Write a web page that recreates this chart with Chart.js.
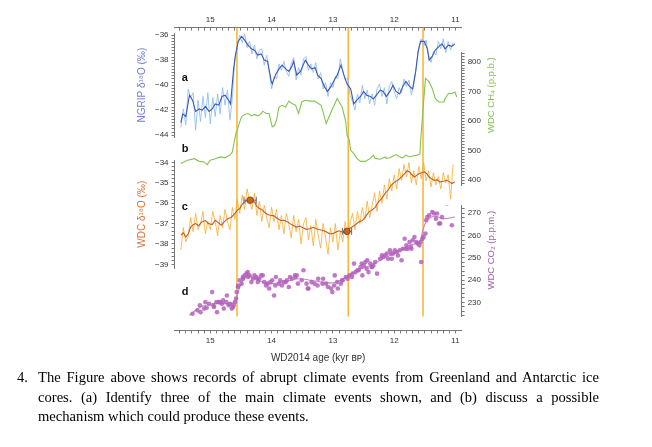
<!DOCTYPE html>
<html>
<head>
<meta charset="utf-8">
<script src="https://cdn.jsdelivr.net/npm/chart.js@4.4.0/dist/chart.umd.min.js"></script>
<style>
html,body{margin:0;padding:0;background:#fff;width:652px;height:447px;overflow:hidden;position:relative}
#wrap{position:absolute;left:0;top:0;width:652px;height:370px}
.q{position:absolute;font-family:"Liberation Serif","Times New Roman",serif;font-size:14.6px;line-height:19.5px;color:#000}
#qn{left:17px;top:368px}
#qt{left:38px;top:368px;width:561px;text-align:justify}
</style>
</head>
<body>
<div id="wrap"><canvas id="c" width="652" height="370"></canvas></div>
<div class="q" id="qn">4.</div>
<div class="q" id="qt">The Figure above shows records of abrupt climate events from Greenland and Antarctic ice cores. (a) Identify three of the main climate events shown, and (b) discuss a possible mechanism which could produce these events.</div>
<script>
// ---------------- DATA (ages in kyr BP, WD2014) ----------------
const xTickLabels = [15, 14, 13, 12, 11];
const ngripTickLabels = [-44, -42, -40, -38, -36];
const wdcTickLabels = [-39, -38, -37, -36, -35, -34];
const ch4TickLabels = [400, 500, 600, 700, 800];
const co2TickLabels = [230, 240, 250, 260, 270];

const eventAges = [14.565, 12.75, 11.53];

const rawAge = [15.48,15.44,15.40,15.36,15.32,15.28,15.24,15.20,15.16,15.12,15.08,15.04,15.00,14.96,14.92,14.88,14.84,14.80,14.76,14.72,14.68,14.64,14.60,14.56,14.52,14.48,14.44,14.40,14.36,14.32,14.28,14.24,14.20,14.16,14.12,14.08,14.04,14.00,13.96,13.92,13.88,13.84,13.80,13.76,13.72,13.68,13.64,13.60,13.56,13.52,13.48,13.44,13.40,13.36,13.32,13.28,13.24,13.20,13.16,13.12,13.08,13.04,13.00,12.96,12.92,12.88,12.84,12.80,12.76,12.72,12.68,12.64,12.60,12.56,12.52,12.48,12.44,12.40,12.36,12.32,12.28,12.24,12.20,12.16,12.12,12.08,12.04,12.00,11.96,11.92,11.88,11.84,11.80,11.76,11.72,11.68,11.64,11.60,11.56,11.52,11.48,11.44,11.40,11.36,11.32,11.28,11.24,11.20,11.16,11.12,11.08,11.04];

const ngripRaw = [-43.4,-41.9,-43.2,-40.3,-41.0,-40.6,-43.6,-41.2,-42.9,-40.9,-42.6,-40.6,-43.1,-41.0,-42.5,-40.7,-42.3,-40.2,-41.6,-40.4,-42.8,-41.0,-38.0,-36.9,-36.0,-36.6,-35.9,-37.0,-36.5,-37.5,-36.8,-37.9,-37.2,-37.1,-38.4,-37.6,-38.9,-40.3,-39.3,-39.5,-38.3,-38.8,-38.1,-38.9,-39.3,-38.3,-37.8,-39.6,-38.6,-39.2,-37.9,-37.7,-38.8,-38.3,-39.0,-38.2,-39.5,-39.0,-40.3,-39.8,-40.9,-39.8,-40.2,-39.3,-39.5,-37.9,-38.8,-39.6,-39.4,-40.8,-41.3,-42.0,-40.7,-41.4,-40.0,-41.1,-40.4,-41.5,-40.7,-41.6,-40.3,-39.9,-40.9,-40.2,-41.5,-40.1,-39.7,-40.5,-41.1,-40.2,-40.6,-39.5,-40.1,-39.6,-40.8,-39.9,-38.6,-37.0,-36.3,-36.9,-36.4,-37.6,-38.2,-37.3,-37.6,-36.5,-37.1,-36.3,-37.4,-36.5,-37.2,-36.6];

const ngripSmAge = [15.48,15.45,15.40,15.34,15.29,15.24,15.18,15.13,15.08,15.02,14.97,14.92,14.86,14.81,14.76,14.70,14.67,14.62,14.59,14.545,14.49,14.44,14.385,14.33,14.28,14.225,14.17,14.12,14.065,14.01,13.99,13.93,13.88,13.83,13.77,13.72,13.67,13.64,13.59,13.53,13.45,13.40,13.35,13.29,13.25,13.19,13.14,13.09,13.03,12.98,12.93,12.87,12.82,12.77,12.71,12.66,12.61,12.55,12.50,12.45,12.39,12.34,12.29,12.23,12.18,12.13,12.07,12.02,11.97,11.91,11.86,11.81,11.75,11.70,11.65,11.61,11.57,11.51,11.46,11.43,11.38,11.33,11.27,11.22,11.17,11.115,11.06,11.01];
const ngripSm = [-43.0,-42.3,-42.5,-40.8,-41.2,-42.1,-41.9,-42.0,-41.7,-42.1,-41.9,-41.5,-41.6,-40.9,-40.8,-41.2,-41.5,-38.7,-37.6,-36.5,-36.1,-36.4,-36.8,-37.1,-37.2,-37.6,-37.5,-38.0,-38.1,-39.6,-39.9,-39.1,-38.7,-38.4,-38.7,-38.9,-38.5,-38.1,-39.2,-38.9,-38.0,-38.4,-38.7,-38.6,-39.2,-39.5,-40.1,-40.5,-40.1,-39.6,-39.2,-38.4,-39.2,-39.9,-40.3,-41.5,-41.2,-40.9,-40.5,-40.8,-40.9,-41.1,-40.8,-40.4,-40.5,-40.9,-40.5,-40.0,-40.5,-40.7,-40.1,-39.7,-40.1,-40.3,-38.9,-37.3,-36.5,-36.5,-37.1,-38.0,-37.7,-37.2,-36.9,-36.7,-37.1,-36.8,-36.9,-36.7];

const ch4Age = [15.48,15.37,15.26,15.18,15.10,15.05,15.00,14.92,14.84,14.76,14.68,14.64,14.61,14.58,14.56,14.53,14.49,14.44,14.385,14.33,14.28,14.225,14.17,14.145,14.09,14.04,14.01,13.99,13.95,13.92,13.88,13.83,13.77,13.72,13.67,13.61,13.56,13.51,13.45,13.37,13.30,13.24,13.19,13.11,13.03,12.93,12.85,12.79,12.77,12.74,12.71,12.66,12.61,12.55,12.47,12.39,12.34,12.31,12.23,12.15,12.13,12.07,12.02,11.97,11.91,11.86,11.81,11.75,11.70,11.62,11.58,11.57,11.55,11.53,11.49,11.43,11.38,11.33,11.27,11.19,11.17,11.115,11.06,11.01,10.98];
const ch4 = [457,468,473,464,462,453,468,473,479,476,485,496,530,560,570,592,615,623,626,618,623,618,626,634,626,626,598,581,586,603,648,654,648,668,660,654,626,665,671,668,668,660,654,592,631,677,648,598,553,541,502,490,474,464,464,474,485,474,471,479,474,476,482,487,479,476,485,479,482,485,490,530,586,643,745,733,711,677,665,665,677,694,694,699,682];

const wdcRaw = [-38.3,-37.2,-37.9,-37.6,-36.7,-37.4,-36.5,-37.3,-37.0,-36.4,-37.5,-36.9,-37.3,-36.4,-36.9,-37.6,-36.6,-37.2,-36.3,-36.9,-37.3,-36.2,-36.8,-35.8,-36.5,-35.6,-36.3,-35.3,-35.9,-36.3,-35.5,-36.6,-35.9,-36.9,-36.1,-36.7,-37.2,-36.2,-36.9,-36.3,-37.3,-36.6,-37.5,-36.5,-37.0,-37.7,-36.6,-37.4,-36.8,-38.0,-37.0,-36.7,-37.8,-37.1,-38.1,-36.8,-37.6,-38.2,-37.0,-37.7,-38.5,-37.2,-37.9,-37.0,-38.3,-37.4,-37.9,-36.9,-37.7,-37.0,-36.5,-37.3,-36.4,-37.0,-36.2,-36.8,-35.9,-36.7,-36.1,-35.5,-36.4,-35.4,-36.0,-35.1,-35.8,-34.8,-35.4,-34.6,-35.3,-34.3,-34.9,-34.1,-34.7,-34.0,-35.0,-34.4,-35.1,-34.2,-34.8,-34.0,-34.9,-34.4,-35.2,-34.5,-35.1,-34.7,-35.3,-34.5,-35.0,-34.6,-35.8,-34.1];

const wdcSmAge = [15.48,15.44,15.40,15.36,15.32,15.28,15.24,15.19,15.14,15.08,15.03,14.97,14.92,14.87,14.82,14.77,14.71,14.66,14.60,14.56,14.52,14.48,14.44,14.40,14.36,14.32,14.28,14.24,14.20,14.16,14.12,14.07,14.02,13.96,13.91,13.85,13.80,13.75,13.70,13.64,13.59,13.54,13.49,13.43,13.38,13.32,13.27,13.22,13.17,13.11,13.06,13.00,12.95,12.90,12.85,12.81,12.77,12.73,12.69,12.63,12.58,12.52,12.47,12.42,12.37,12.31,12.26,12.20,12.15,12.10,12.05,11.99,11.94,11.88,11.83,11.79,11.75,11.71,11.67,11.63,11.59,11.55,11.51,11.47,11.43,11.39,11.355,11.30,11.25,11.20,11.14,11.10,11.06,11.01];
const wdcSm = [-37.57,-37.45,-37.66,-37.5,-37.17,-37.05,-37.0,-37.1,-36.92,-36.85,-37.0,-37.05,-36.84,-36.95,-37.08,-36.9,-36.75,-36.7,-36.51,-36.35,-36.26,-36.05,-35.94,-35.85,-35.77,-35.9,-35.94,-36.15,-36.26,-36.3,-36.43,-36.55,-36.59,-36.62,-36.75,-36.85,-36.84,-36.9,-37.0,-37.1,-37.17,-37.12,-37.2,-37.28,-37.25,-37.18,-37.25,-37.3,-37.33,-37.4,-37.49,-37.5,-37.41,-37.35,-37.41,-37.45,-37.33,-37.25,-37.17,-37.05,-36.92,-36.85,-36.67,-36.45,-36.35,-36.2,-35.94,-35.75,-35.52,-35.35,-35.12,-34.95,-34.87,-34.7,-34.54,-34.4,-34.46,-34.6,-34.71,-34.62,-34.54,-34.5,-34.46,-34.55,-34.71,-34.8,-34.87,-34.85,-34.95,-34.92,-34.87,-34.95,-35.03,-34.95];

const tieAge = [14.35, 12.77];
const tieVal = [-35.85, -37.38];
const tieErr = [0.1, 0.075];

const co2Age = [15.29,15.21,15.17,15.10,15.08,15.02,14.97,14.94,14.89,14.86,14.81,14.78,14.73,14.70,14.68,14.65,14.62,14.60,14.57,14.545,14.52,14.49,14.465,14.44,14.41,14.385,14.36,14.33,14.305,14.28,14.25,14.225,14.20,14.17,14.145,14.12,14.09,14.065,14.04,13.99,13.96,13.93,13.88,13.83,13.77,13.72,13.67,13.61,13.59,13.51,13.48,13.43,13.40,13.35,13.24,13.16,13.11,13.08,13.03,12.97,12.92,12.87,12.84,12.79,12.76,12.73,12.68,12.655,12.63,12.60,12.55,12.52,12.495,12.44,12.39,12.36,12.34,12.31,12.28,12.23,12.20,12.18,12.12,12.07,12.04,12.02,11.96,11.91,11.88,11.86,11.83,11.80,11.78,11.75,11.72,11.70,11.67,11.64,11.62,11.59,11.56,11.54,11.48,11.46,11.43,11.38,11.35,11.32,11.30,11.27,11.25,11.22,11.14,11.06,
  15.16,15.06,14.95,14.90,14.84,14.79,14.74,14.63,14.58,14.55,14.47,14.39,14.23,14.02,13.94,13.86,13.80,13.75,13.70,13.62,13.57,13.41,13.30,13.25,13.17,13.01,12.98,12.93,12.85,12.69,12.58,12.53,12.47,12.45,12.42,12.37,12.15,12.10,12.05,11.99,11.94,11.81,11.73,11.57,11.52,11.49];
const co2 = [224.9,226.4,228.7,227.2,230.1,229.4,234.6,227.9,225.6,230.1,229.4,227.2,233.1,228.7,229.4,227.2,228.7,230.1,234.6,237.6,239.9,238.4,240.6,242.1,242.9,241.4,242.1,239.1,240.6,242.1,241.4,239.1,240.6,242.1,242.1,239.1,237.6,238.4,236.2,239.9,233.1,241.4,238.4,237.6,239.1,236.9,240.6,241.4,242.1,239.9,244.4,238.4,236.2,239.1,240.6,240.6,238.4,236.9,236.2,242.1,236.2,238.4,239.9,241.4,240.6,242.1,242.9,247.4,243.6,244.4,245.9,242.1,246.6,248.9,247.4,245.9,246.6,248.1,242.9,249.6,251.1,250.4,251.9,253.4,249.6,251.9,252.6,253.4,248.9,254.1,258.6,255.6,254.1,257.1,254.1,257.9,259.3,257.1,256.4,255.6,248.1,258.6,266.9,268.3,269.1,270.6,269.9,267.6,269.9,265.4,265.4,268.3,274.4,264.6,
  225.6,227.6,228.7,230.1,230.1,230.9,230.1,227.9,231.7,236.9,241.4,243.6,240.6,239.1,237.6,239.9,239.1,239.9,241.4,242.1,238.4,236.2,238.4,237.6,238.4,234.6,237.6,239.1,239.9,241.4,244.4,247.4,248.1,245.1,243.6,245.9,251.1,249.6,251.9,253.4,251.1,254.1,254.9,257.1,259.4,260.9];

const co2FitAge = [15.34,15.16,14.94,14.73,14.60,14.545,14.465,14.385,14.28,14.145,13.99,13.77,13.56,13.35,13.13,12.97,12.81,12.60,12.39,12.18,11.96,11.75,11.59,11.54,11.48,11.355,11.20,11.01];
const co2Fit = [224.2,227.9,229.4,229.4,230.1,234.9,239.9,242.1,240.6,239.1,238.4,239.4,240.6,239.9,238.9,238.9,240.9,244.4,246.6,249.6,252.6,255.6,257.1,261.6,266.1,268.7,267.6,268.3];

// ---------------- STYLE ----------------
const FONT = "'Liberation Sans', Arial, Helvetica, sans-serif";
Chart.defaults.font.family = FONT;
const AXIS = '#777';
const BLUE_RAW = '#93c0ee', BLUE_SM = '#3f56b5', BLUE_T = '#6f80d4';
const GREEN = '#84c452';
const OR_RAW = '#f5ad2e', OR_SM = '#c45a26', OR_T = '#d8733a';
const PURP = 'rgba(180,98,188,0.85)', PURP_LINE = '#c385ca', PURP_T = '#a35cb4';
const GOLD = '#f6b93c';

function pts(ages, vals) {
  const n = Math.min(ages.length, vals.length), out = [];
  for (let i = 0; i < n; i++) out.push({x: ages[i], y: vals[i]});
  return out;
}
function tickList(lo, hi, step) {
  const n = Math.round((hi - lo) / step), out = [];
  for (let i = 0; i <= n; i++) out.push({value: +(lo + i * step).toFixed(4)});
  return out;
}
function labelCb(majors) {
  return v => {
    const m = majors.find(t => Math.abs(t - v) < 1e-6);
    return m === undefined ? '' : (m < 0 ? '\u2212' + Math.abs(m) : String(m));
  };
}
function visY(pos, stack, weight, min, max, lo, hi, step, majors, title, color) {
  return {
    type: 'linear', position: pos, stack: stack, stackWeight: weight, min: min, max: max,
    afterBuildTicks: s => { s.ticks = tickList(lo, hi, step); },
    ticks: {autoSkip: false, font: {size: 8}, color: '#333', padding: 3, callback: labelCb(majors)},
    grid: {drawOnChartArea: false, drawTicks: true, tickLength: 3, color: AXIS},
    border: {display: true, color: AXIS, width: 1},
    title: title ? {display: true, text: title, color: color, font: {size: 10}, padding: {top: 4, bottom: 4}} : {display: false}
  };
}
function spacer(pos, stack, weight) {
  return {type: 'linear', position: pos, stack: stack, stackWeight: weight, display: false, min: 0, max: 1};
}
function xAxis(pos) {
  const top = pos === 'top';
  return {
    type: 'linear', position: pos, min: 10.9, max: 15.583, reverse: true,
    afterBuildTicks: s => { s.ticks = tickList(11.0, 15.5, 0.1); },
    ticks: {autoSkip: false, maxRotation: 0, font: {size: 8}, color: '#333', padding: top ? 6 : 3, callback: labelCb(xTickLabels)},
    grid: {drawOnChartArea: false, drawTicks: true, tickLength: top ? -3 : 3, color: AXIS},
    border: {display: true, color: AXIS, width: 1},
    title: top ? {display: false} : {display: true, text: 'WD2014 age (kyr \u0299\u1D18)', color: '#333', font: {size: 10}, padding: {top: 3, bottom: 3}}
  };
}

const datasets = [];
tieAge.forEach((a, i) => {
  datasets.push({data: [{x: a - tieErr[i], y: tieVal[i]}, {x: a + tieErr[i], y: tieVal[i]}], yAxisID: 'yC',
    borderColor: '#6d6d6d', borderWidth: 1, pointStyle: 'line', pointRotation: 90, pointRadius: 3.5,
    pointBorderColor: '#6d6d6d', pointBorderWidth: 1, tension: 0});
});
datasets.unshift({data: pts(tieAge, tieVal), yAxisID: 'yC', showLine: false, pointRadius: 3.3,
  pointBackgroundColor: '#c9651d', pointBorderColor: '#7b3a12', pointBorderWidth: 0.8});
datasets.push({data: pts(co2Age, co2), yAxisID: 'yCO2', showLine: false, pointRadius: 2.3,
  pointBackgroundColor: PURP, pointBorderWidth: 0});
datasets.push({data: pts(co2FitAge, co2Fit), yAxisID: 'yCO2', borderColor: PURP_LINE, borderWidth: 1.1, pointRadius: 0, tension: 0.35});
datasets.push({data: pts(wdcSmAge, wdcSm), yAxisID: 'yC', borderColor: OR_SM, borderWidth: 1.1, pointRadius: 0, tension: 0});
datasets.push({data: pts(rawAge, wdcRaw), yAxisID: 'yC', borderColor: OR_RAW, borderWidth: 0.8, pointRadius: 0, tension: 0});
datasets.push({data: pts(ch4Age, ch4), yAxisID: 'yCH4', borderColor: GREEN, borderWidth: 1.1, pointRadius: 0, tension: 0});
datasets.push({data: pts(ngripSmAge, ngripSm), yAxisID: 'yA', borderColor: BLUE_SM, borderWidth: 1.1, pointRadius: 0, tension: 0});
datasets.push({data: pts(rawAge, ngripRaw), yAxisID: 'yA', borderColor: BLUE_RAW, borderWidth: 0.9, pointRadius: 0, tension: 0});
eventAges.forEach(a => {
  datasets.push({data: [{x: a, y: 0.046}, {x: a, y: 1}], yAxisID: 'yV', borderColor: GOLD, borderWidth: 1.6, pointRadius: 0});
});

const annot = {
  id: 'annot',
  afterDraw(chart) {
    const ctx = chart.ctx, s = chart.scales;
    ctx.save();
    ctx.font = 'bold 11px ' + FONT;
    ctx.fillStyle = '#111';
    ctx.textAlign = 'left';
    ctx.textBaseline = 'middle';
    const lx = s.x.getPixelForValue(15.465);
    ctx.fillText('a', lx, s.yA.getPixelForValue(-39.42));
    ctx.fillText('b', lx, s.yA.getPixelForValue(-45.06));
    ctx.fillText('c', lx, s.yC.getPixelForValue(-36.18));
    ctx.fillText('d', lx, s.yCO2.getPixelForValue(234.5));
    ctx.font = '9.5px ' + FONT;
    ctx.textAlign = 'center';
    const tx = s.yCH4.right + 7;
    [[s.yCH4.getPixelForValue(688), 'WDC CH\u2084 (p.p.b.)', GREEN],
     [s.yCO2.getPixelForValue(253.4), 'WDC CO\u2082 (p.p.m.)', PURP_T]].forEach(([ty, t, c]) => {
      ctx.save();
      ctx.translate(tx, ty);
      ctx.rotate(-Math.PI / 2);
      ctx.fillStyle = c;
      ctx.fillText(t, 0, 0);
      ctx.restore();
    });
    ctx.restore();
  }
};

new Chart(document.getElementById('c'), {
  type: 'line',
  data: {datasets: datasets},
  options: {
    responsive: false, maintainAspectRatio: false, animation: false, devicePixelRatio: 1, events: [],
    layout: {padding: {top: 9, left: 132, right: 168, bottom: 3}},
    plugins: {legend: {display: false}, tooltip: {enabled: false}},
    elements: {line: {fill: false}},
    scales: {
      x: xAxis('bottom'),
      x2: xAxis('top'),
      yLbot: spacer('left', 'L', 62),
      yC: visY('left', 'L', 108, -39.197, -33.887, -39, -34, 0.2, wdcTickLabels, 'WDC \u03B4\u00B9\u2078O (\u2030)', OR_T),
      yLmid: spacer('left', 'L', 23),
      yA: visY('left', 'L', 104, -44.16, -35.84, -44, -36, 0.25, ngripTickLabels, 'NGRIP \u03B4\u00B9\u2078O (\u2030)', BLUE_T),
      yLtop: spacer('left', 'L', 5.5),
      yRtop: spacer('right', 'R', 24.5),
      yCH4: visY('right', 'R', 133, 383.05, 833.9, 390, 830, 10, ch4TickLabels, null, GREEN),
      yRmid: spacer('right', 'R', 20),
      yCO2: visY('right', 'R', 111, 223.7, 273.6, 224, 272, 2, co2TickLabels, null, PURP_T),
      yRbot: spacer('right', 'R', 14),
      yV: {type: 'linear', position: 'left', display: false, min: 0, max: 1}
    }
  },
  plugins: [annot]
});
</script>
</body>
</html>
